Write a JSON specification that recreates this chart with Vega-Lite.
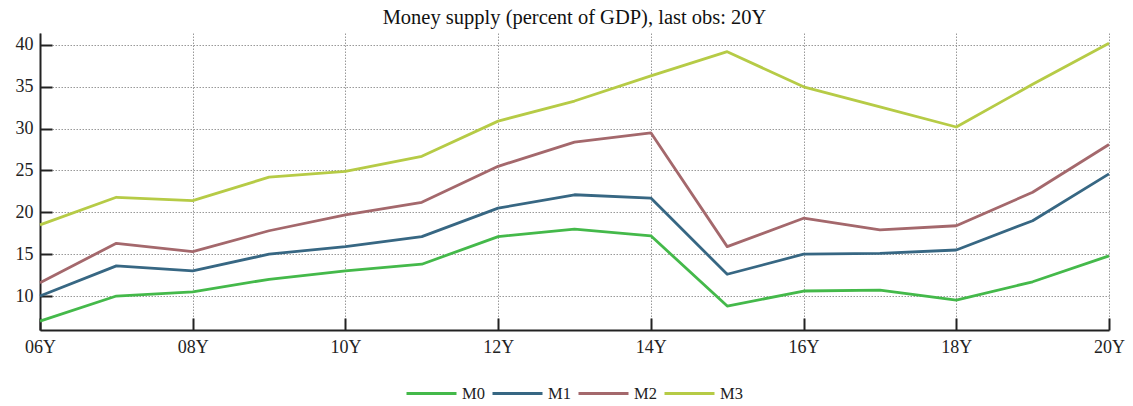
{
  "$schema": "https://vega.github.io/schema/vega-lite/v6.json",
  "autosize": {"type": "none"},
  "width": 1069,
  "height": 297,
  "padding": {"left": 40, "top": 33, "right": 24, "bottom": 76},
  "background": "white",
  "config": {
    "font": "Liberation Serif",
    "view": {"stroke": null}
  },
  "title": {
    "text": "Money supply (percent of GDP), last obs: 20Y",
    "font": "Liberation Serif",
    "fontSize": 20.5,
    "fontWeight": "normal",
    "color": "#111",
    "anchor": "middle",
    "frame": "group",
    "baseline": "alphabetic",
    "offset": 9,
    "dy": 20.5
  },
  "data": {
    "values": [
      {"year": 2006, "series": "M0", "value": 7.0},
      {"year": 2007, "series": "M0", "value": 10.0},
      {"year": 2008, "series": "M0", "value": 10.5},
      {"year": 2009, "series": "M0", "value": 12.0},
      {"year": 2010, "series": "M0", "value": 13.0},
      {"year": 2011, "series": "M0", "value": 13.8},
      {"year": 2012, "series": "M0", "value": 17.1},
      {"year": 2013, "series": "M0", "value": 18.0},
      {"year": 2014, "series": "M0", "value": 17.2},
      {"year": 2015, "series": "M0", "value": 8.8},
      {"year": 2016, "series": "M0", "value": 10.6},
      {"year": 2017, "series": "M0", "value": 10.7},
      {"year": 2018, "series": "M0", "value": 9.5},
      {"year": 2019, "series": "M0", "value": 11.7},
      {"year": 2020, "series": "M0", "value": 14.8},
      {"year": 2006, "series": "M1", "value": 10.0},
      {"year": 2007, "series": "M1", "value": 13.6},
      {"year": 2008, "series": "M1", "value": 13.0},
      {"year": 2009, "series": "M1", "value": 15.0},
      {"year": 2010, "series": "M1", "value": 15.9},
      {"year": 2011, "series": "M1", "value": 17.1},
      {"year": 2012, "series": "M1", "value": 20.5},
      {"year": 2013, "series": "M1", "value": 22.1},
      {"year": 2014, "series": "M1", "value": 21.7},
      {"year": 2015, "series": "M1", "value": 12.6},
      {"year": 2016, "series": "M1", "value": 15.0},
      {"year": 2017, "series": "M1", "value": 15.1},
      {"year": 2018, "series": "M1", "value": 15.5},
      {"year": 2019, "series": "M1", "value": 19.0},
      {"year": 2020, "series": "M1", "value": 24.6},
      {"year": 2006, "series": "M2", "value": 11.6},
      {"year": 2007, "series": "M2", "value": 16.3},
      {"year": 2008, "series": "M2", "value": 15.3},
      {"year": 2009, "series": "M2", "value": 17.8},
      {"year": 2010, "series": "M2", "value": 19.7},
      {"year": 2011, "series": "M2", "value": 21.2},
      {"year": 2012, "series": "M2", "value": 25.5},
      {"year": 2013, "series": "M2", "value": 28.4},
      {"year": 2014, "series": "M2", "value": 29.5},
      {"year": 2015, "series": "M2", "value": 15.9},
      {"year": 2016, "series": "M2", "value": 19.3},
      {"year": 2017, "series": "M2", "value": 17.9},
      {"year": 2018, "series": "M2", "value": 18.4},
      {"year": 2019, "series": "M2", "value": 22.4},
      {"year": 2020, "series": "M2", "value": 28.1},
      {"year": 2006, "series": "M3", "value": 18.5},
      {"year": 2007, "series": "M3", "value": 21.8},
      {"year": 2008, "series": "M3", "value": 21.4},
      {"year": 2009, "series": "M3", "value": 24.2},
      {"year": 2010, "series": "M3", "value": 24.9},
      {"year": 2011, "series": "M3", "value": 26.7},
      {"year": 2012, "series": "M3", "value": 30.9},
      {"year": 2013, "series": "M3", "value": 33.3},
      {"year": 2014, "series": "M3", "value": 36.3},
      {"year": 2015, "series": "M3", "value": 39.2},
      {"year": 2016, "series": "M3", "value": 35.0},
      {"year": 2017, "series": "M3", "value": 32.6},
      {"year": 2018, "series": "M3", "value": 30.2},
      {"year": 2019, "series": "M3", "value": 35.3},
      {"year": 2020, "series": "M3", "value": 40.2}
    ]
  },
  "mark": {"type": "line", "strokeWidth": 2.8, "strokeJoin": "round"},
  "encoding": {
    "x": {
      "field": "year",
      "type": "quantitative",
      "scale": {"domain": [2006, 2020], "nice": false, "zero": false},
      "axis": {
        "title": null,
        "values": [2006, 2008, 2010, 2012, 2014, 2016, 2018, 2020],
        "labelExpr": "slice(toString(datum.value), 2) + 'Y'",
        "labelFont": "Liberation Serif",
        "labelFontSize": 18,
        "labelColor": "#222",
        "labelPadding": 20,
        "labelFlush": false,
        "labelBaseline": "top",
        "domainColor": "#222",
        "domainWidth": 2,
        "tickColor": "#222",
        "tickWidth": 2,
        "tickSize": -12,
        "grid": true,
        "gridColor": "#999",
        "gridDash": [1.5, 1.5],
        "gridWidth": 1
      }
    },
    "y": {
      "field": "value",
      "type": "quantitative",
      "scale": {"domain": [5.94, 41.43], "nice": false, "zero": false},
      "axis": {
        "title": null,
        "values": [10, 15, 20, 25, 30, 35, 40],
        "labelFont": "Liberation Serif",
        "labelFontSize": 18,
        "labelColor": "#222",
        "labelPadding": 19,
        "domainColor": "#222",
        "domainWidth": 2,
        "tickColor": "#222",
        "tickWidth": 2,
        "tickSize": -12,
        "grid": true,
        "gridColor": "#999",
        "gridDash": [1.5, 1.5],
        "gridWidth": 1
      }
    },
    "color": {
      "field": "series",
      "type": "nominal",
      "scale": {
        "domain": ["M0", "M1", "M2", "M3"],
        "range": ["#44b94a", "#376783", "#a4686c", "#b6cb46"]
      },
      "legend": {
        "title": null,
        "orient": "none",
        "legendX": 365,
        "legendY": 334,
        "direction": "horizontal",
        "symbolType": "stroke",
        "symbolSize": 2500,
        "symbolStrokeWidth": 3,
        "labelFont": "Liberation Serif",
        "labelFontSize": 16.5,
        "labelColor": "#222",
        "labelOffset": 4,
        "columnPadding": 1
      }
    }
  }
}
